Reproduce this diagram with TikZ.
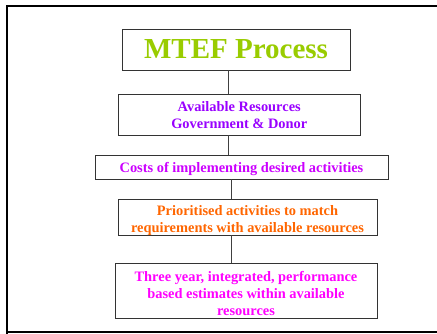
\documentclass[tikz,border=0pt]{standalone}
\usepackage{fontspec}
\setmainfont{Liberation Serif}
\usepackage{tikz}
\usetikzlibrary{calc}
\definecolor{titlegreen}{HTML}{99CC00}
\definecolor{violet1}{HTML}{9900FF}
\definecolor{violet2}{HTML}{CC00FF}
\definecolor{orange1}{HTML}{FF6600}
\definecolor{magenta1}{HTML}{FF00FF}
\newcommand{\boxtext}{\bfseries\fontsize{14.4}{17}\selectfont}
% lower the text, keep the box size
\newcommand{\lines}[2]{\raisebox{#1}[\height][\depth]{\begin{tabular}{@{}c@{}}#2\end{tabular}}}

\begin{document}
\begin{tikzpicture}[x=1pt, y=-1pt,
    stagebox/.style={draw=black!80, line width=0.9pt, fill=white, inner sep=0pt, align=center},
    link/.style={draw=black!75, line width=0.9pt}]
            \useasboundingbox (0,0) rectangle (437,334);
            % outer frame
            \draw[line width=2.4pt] (7,460) -- (7,6) -- (460,6);
            \draw[line width=2.8pt] (7,332) -- (460,332);
            % box 1
            \node[stagebox, minimum width=228pt, minimum height=41pt, text=titlegreen,
                font=\bfseries\fontsize{29}{32}\selectfont] (mtef) at (236,49.5) {MTEF Process};
            % box 2
            \node[stagebox, minimum width=241.5pt, minimum height=41pt, text=violet1,
                font=\boxtext] (avail) at (239.25,114.5) {\lines{-2pt}{Available Resources\\Government \& Donor}};
            % box 3
            \node[stagebox, minimum width=293pt, minimum height=24pt, text=violet2,
                font=\boxtext] (costs) at (241.5,167) {\lines{-2.5pt}{Costs of implementing desired activities}};
            % box 4
            \node[stagebox, minimum width=259pt, minimum height=36pt, text=orange1,
                font=\boxtext] (prior) at (247.5,217) {\lines{-4pt}{Prioritised activities to match\\requirements with available resources}};
            % box 5
            \node[stagebox, minimum width=262pt, minimum height=54.5pt, text=magenta1,
                font=\boxtext] (three) at (246,291) {\lines{-4pt}{Three year, integrated, performance\\based estimates within available\\resources}};
            % spines
            \coordinate (spineA) at (228,0);
            \coordinate (spineB) at (231,0);
            \draw[link] (mtef.south -| spineA) -- (avail.north -| spineA);
            \draw[link] (avail.south -| spineA) -- (costs.north -| spineA);
            \draw[link] (costs.south -| spineB) -- (prior.north -| spineB);
            \draw[link] (prior.south -| spineB) -- (three.north -| spineB);
        \end{tikzpicture}
\end{document}
